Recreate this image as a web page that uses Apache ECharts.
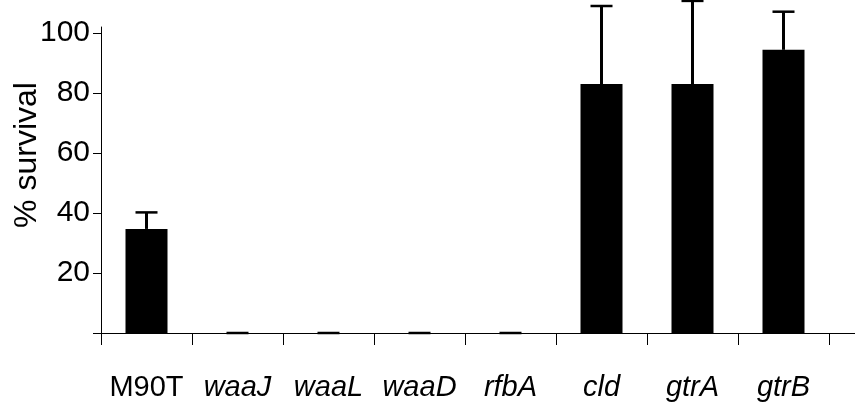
<!DOCTYPE html>
<html lang="en">
<head>
    <meta charset="UTF-8">
    <title>% survival</title>
    <style>
        html, body { margin: 0; padding: 0; background: #fff; }
        #main { width: 855px; height: 403px; }
    </style>
</head>
<body>
    <div id="main"></div>
    <script src="https://cdn.jsdelivr.net/npm/echarts@6/dist/echarts.min.js"></script>
    <script>
        // strains on the x axis (M90T is the wild type, the rest are mutants -> italic)
        var strains = ['M90T', 'waaJ', 'waaL', 'waaD', 'rfbA', 'cld', 'gtrA', 'gtrB'];
        var italic = [false, true, true, true, true, true, true, true];
        // mean % survival and upper error
        var survival = [34.7, 0, 0, 0, 0, 83, 83, 94.4];
        var errUp = [5.5, 0, 0, 0, 0, 26, 27.7, 12.7];
        var yTicks = [0, 20, 40, 60, 80, 100];
        var yLabels = [20, 40, 60, 80, 100];

        var myChart = echarts.init(document.getElementById('main'));
        var font = 'Liberation Sans, Arial, Helvetica, sans-serif';

        var errData = strains.map(function (s, i) {
            return [i, survival[i], errUp[i]];
        });

        var option = {
            animation: false,
            grid: { left: 101, right: 26, top: 27, bottom: 70, containLabel: false, outerBoundsMode: 'none' },
            xAxis: {
                type: 'category',
                data: strains,
                axisLine: { lineStyle: { color: '#000', width: 1 } },
                axisTick: { show: true, interval: 0, length: 12, lineStyle: { color: '#000' } },
                axisLabel: {
                    interval: 0,
                    hideOverlap: false,
                    margin: 40,
                    fontFamily: font,
                    fontSize: 29,
                    color: '#000',
                    formatter: function (v, i) {
                        return italic[i] ? '{i|' + v + '}' : v;
                    },
                    rich: {
                        i: { fontStyle: 'italic', fontFamily: font, fontSize: 29, color: '#000' }
                    }
                }
            },
            yAxis: {
                type: 'value',
                min: 0,
                max: 102,
                interval: 20,
                name: '% survival',
                nameLocation: 'middle',
                nameRotate: 90,
                nameGap: 58,
                nameMoveOverlap: false,
                nameTextStyle: {
                    fontFamily: font, fontSize: 32, color: '#000',
                    padding: [0, 0, 0, 50]
                },
                splitLine: { show: false },
                axisLine: { show: true, lineStyle: { color: '#000', width: 1 } },
                axisTick: { show: true, length: 8, customValues: yTicks, lineStyle: { color: '#000' } },
                axisLabel: {
                    customValues: yLabels,
                    margin: 11,
                    fontFamily: font,
                    fontSize: 30,
                    color: '#000'
                }
            },
            graphic: [{
                type: 'line',
                shape: { x1: 829, y1: 333.5, x2: 855, y2: 333.5 },
                style: { stroke: '#000', lineWidth: 1 }
            }],
            series: [{
                type: 'bar',
                data: survival,
                barWidth: 42,
                itemStyle: { color: '#000' }
            }, {
                type: 'custom',
                clip: false,
                data: errData,
                encode: { x: 0, y: 1 },
                renderItem: function (params, api) {
                    var base = api.coord([api.value(0), api.value(1)]);
                    var top = api.coord([api.value(0), api.value(1) + api.value(2)]);
                    var half = 11;
                    return {
                        type: 'group',
                        children: [{
                            type: 'line',
                            shape: { x1: base[0], y1: base[1], x2: top[0], y2: top[1] },
                            style: { stroke: '#000', lineWidth: 3 }
                        }, {
                            type: 'line',
                            shape: { x1: top[0] - half, y1: top[1], x2: top[0] + half, y2: top[1] },
                            style: { stroke: '#000', lineWidth: 2.5 }
                        }]
                    };
                }
            }]
        };

        myChart.setOption(option);
    </script>
</body>
</html>
